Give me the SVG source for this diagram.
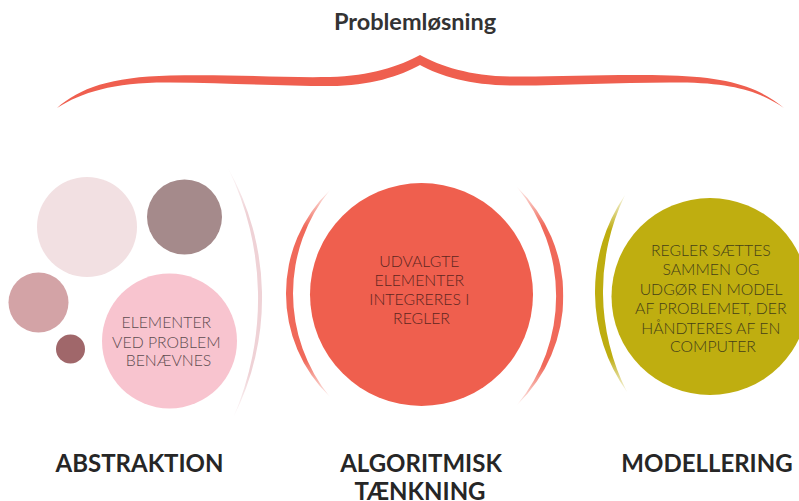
<svg xmlns="http://www.w3.org/2000/svg" width="799" height="501" viewBox="0 0 799 501">
  <style>
    .title { font-family: Lato, "Liberation Sans", sans-serif; font-weight: 700; font-size: 23.5px; fill: #333333; text-anchor: middle; }
    .label { font-family: Lato, "Liberation Sans", sans-serif; font-weight: 700; font-size: 24px; fill: #262626; text-anchor: middle; }
    .body { font-family: Lato, "Liberation Sans", sans-serif; font-weight: 300; font-size: 15.8px; text-anchor: middle; }
  </style>
  <defs>
    <linearGradient id="fadeV" x1="0" y1="0" x2="0" y2="1">
      <stop offset="0" stop-color="#fff" stop-opacity="0.1"/>
      <stop offset="0.18" stop-color="#fff" stop-opacity="1"/>
      <stop offset="0.82" stop-color="#fff" stop-opacity="1"/>
      <stop offset="1" stop-color="#fff" stop-opacity="0.1"/>
    </linearGradient>
    <mask id="fadeMask" maskContentUnits="objectBoundingBox">
      <rect x="0" y="0" width="1" height="1" fill="url(#fadeV)"/>
    </mask>
  </defs>

  <rect width="799" height="501" fill="#ffffff"/>

  <!-- heading and brace -->
  <g id="heading">
    <text class="title" x="415" y="30">Problemløsning</text>
    <path fill="#ef5f4f" d="M57,108 C80,88 110,77 170,75.5 C230,74 280,78 330,77 C370,76 400,66 420,55 C440,66 470,76 510,76.5 C560,77 610,74 670,75.5 C730,77 760,88 784,108 C760,92 735,83 680,82.5 C620,82 560,86 510,85.5 C470,85 440,76 420,65 C400,76 370,86 330,86 C280,86 230,83 170,82.5 C115,82 82,92 57,108 Z"/>
  </g>

  <!-- abstraction cluster -->
  <g id="abstraktion">
    <circle cx="87" cy="227" r="50" fill="#f2e0e2"/>
    <circle cx="184.5" cy="217" r="37.5" fill="#a58a8b"/>
    <circle cx="38.5" cy="302.5" r="30" fill="#d3a3a6"/>
    <circle cx="70.5" cy="349" r="14.5" fill="#a0676a"/>
    <circle cx="169.5" cy="341" r="67.5" fill="#f8c4cf"/>
    <path fill="#efd2d6" mask="url(#fadeMask)" d="M228,168 A263.8,263.8 0 0 1 233,418 A297.8,297.8 0 0 0 228,168 Z"/>
    <text class="body" fill="#5e4c4f">
      <tspan x="168.5" y="328">ELEMENTER</tspan>
      <tspan x="168.5" y="347.5">VED PROBLEM</tspan>
      <tspan x="168.5" y="366">BENÆVNES</tspan>
    </text>
    <text class="label" x="139.5" y="472">ABSTRAKTION</text>
  </g>

  <!-- algorithmic thinking -->
  <g id="algoritmisk">
    <path fill="#f0695a" mask="url(#fadeMask)" d="M330,190 A143.7,143.7 0 0 0 330,397 A163.3,163.3 0 0 1 330,190 Z"/>
    <path fill="#f0695a" mask="url(#fadeMask)" d="M517,187 A151.3,151.3 0 0 1 517,405 A171.4,171.4 0 0 0 517,187 Z"/>
    <circle cx="421.5" cy="294.5" r="111.5" fill="#ef5f4e"/>
    <text class="body" fill="#5e2620">
      <tspan x="421.5" y="267">UDVALGTE</tspan>
      <tspan x="421.5" y="286">ELEMENTER</tspan>
      <tspan x="421.5" y="305">INTEGRERES I</tspan>
      <tspan x="421.5" y="324">REGLER</tspan>
    </text>
    <text class="label" x="421" y="472">ALGORITMISK</text>
    <text class="label" x="420" y="500">TÆNKNING</text>
  </g>

  <!-- modelling -->
  <g id="modellering">
    <path fill="#bead0f" mask="url(#fadeMask)" d="M625,195 A172,172 0 0 0 627,392 A222.4,222.4 0 0 1 625,195 Z"/>
    <circle cx="710" cy="296.5" r="98.5" fill="#bfae10"/>
    <text class="body" fill="#453f18">
      <tspan x="713" y="256">REGLER SÆTTES</tspan>
      <tspan x="713" y="275">SAMMEN OG</tspan>
      <tspan x="713" y="295">UDGØR EN MODEL</tspan>
      <tspan x="713" y="314">AF PROBLEMET, DER</tspan>
      <tspan x="713" y="334">HÅNDTERES AF EN</tspan>
      <tspan x="713" y="352">COMPUTER</tspan>
    </text>
    <text class="label" x="707" y="472">MODELLERING</text>
  </g>
</svg>
